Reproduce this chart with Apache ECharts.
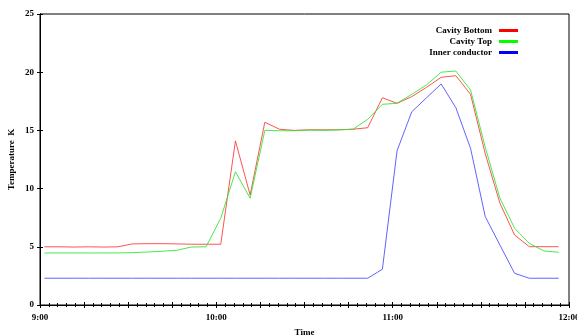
<!DOCTYPE html>
<html>
<head>
<meta charset="utf-8">
<script src="https://cdn.jsdelivr.net/npm/echarts@6/dist/echarts.min.js"></script>
<style>
html,body{margin:0;padding:0;background:#fff;}
#chart{width:577px;height:336px;}
</style>
</head>
<body>
<div id="chart"></div>
<script>
const times = ['9:01:30','9:06:30','9:11:30','9:16:30','9:21:30','9:26:30','9:31:30','9:36:30','9:41:30','9:46:30',
  '9:51:30','9:56:30','10:01:30','10:06:30','10:11:30','10:16:30','10:21:30','10:26:30','10:31:30','10:36:30',
  '10:41:30','10:46:30','10:51:30','10:56:30','11:01:30','11:06:30','11:11:30','11:16:30','11:21:30','11:26:30',
  '11:31:30','11:36:30','11:41:30','11:46:30','11:51:30','11:56:30'];
const cavityBottom = [5.0,5.0,4.98,5.0,4.98,5.0,5.25,5.27,5.27,5.25,5.22,5.22,5.22,
  14.1,9.45,15.7,15.1,15.0,15.05,15.05,15.05,15.1,15.23,
  17.8,17.33,17.9,18.7,19.56,19.7,18.1,13.0,8.74,6.01,5.01,5.01,5.01];
const cavityTop = [4.47,4.47,4.47,4.47,4.47,4.47,4.5,4.55,4.62,4.7,4.98,5.0,
  7.45,11.45,9.17,15.0,14.97,14.97,15.03,15.0,15.05,15.1,15.95,
  17.24,17.33,18.1,18.9,20.0,20.1,18.47,13.55,9.17,6.59,5.3,4.64,4.53];
const innerConductor = [2.3,2.3,2.3,2.3,2.3,2.3,2.3,2.3,2.3,2.3,2.3,2.3,2.3,2.3,2.3,2.3,2.3,2.3,2.3,2.3,2.3,2.3,2.3,
  3.07,13.26,16.6,17.8,18.99,16.95,13.46,7.59,5.15,2.72,2.3,2.3,2.3];
const tickLabels = ['9:00','10:00','11:00','12:00'];
const seriesNames = ['Cavity Bottom','Cavity Top','Inner conductor'];

function toMin(s){const p=s.split(':').map(Number);return (p[0]-9)*60+p[1]+(p[2]||0)/60;}
function pairs(vals){return vals.map((v,i)=>[toMin(times[i]),v]);}

const font = {fontFamily:'Liberation Serif',fontWeight:'bold',fontSize:9,color:'#000'};
const axisLine = {show:true,lineStyle:{color:'#000',width:1}};

const chart = echarts.init(document.getElementById('chart'),null,{renderer:'canvas'});
chart.setOption({
  animation:false,
  backgroundColor:'#fff',
  grid:{left:40,right:8,top:14,bottom:31,show:true,borderColor:'#000',borderWidth:1,
    containLabel:false,outerBoundsMode:'none'},
  legend:{
    data:seriesNames.map(n=>({name:n,icon:'rect'})),
    orient:'vertical',right:59,top:25,align:'right',padding:0,
    itemWidth:19,itemHeight:3,itemGap:0,
    textStyle:Object.assign({},font,{lineHeight:11,padding:[0,2,0,0]})
  },
  xAxis:[{
    type:'value',min:0,max:180,interval:15,
    name:'Time',nameLocation:'middle',nameGap:23,nameTextStyle:font,
    axisLine:axisLine,
    axisTick:{show:true,inside:true,length:3,lineStyle:{color:'#000'}},
    minorTick:{show:true,splitNumber:5,length:2,lineStyle:{color:'#000'}},
    splitLine:{show:false},
    axisLabel:Object.assign({},font,{margin:8,showMaxLabel:true,
      formatter:v=>(v%60===0?tickLabels[v/60]:'')})
  },{
    type:'value',min:0,max:180,interval:15,position:'top',
    axisLine:axisLine,
    axisTick:{show:true,inside:true,length:3,lineStyle:{color:'#000'}},
    minorTick:{show:true,splitNumber:5,length:2,lineStyle:{color:'#000'}},
    splitLine:{show:false},axisLabel:{show:false}
  }],
  yAxis:[{
    type:'value',min:0,max:25,interval:5,
    name:'Temperature  K',nameLocation:'middle',nameGap:24,nameRotate:90,nameTextStyle:font,
    nameMoveOverlap:false,
    axisLine:axisLine,
    axisTick:{show:true,inside:true,length:3,lineStyle:{color:'#000'}},
    splitLine:{show:false},
    axisLabel:Object.assign({},font,{margin:6})
  },{
    type:'value',min:0,max:25,interval:5,position:'right',
    axisLine:axisLine,
    axisTick:{show:true,inside:true,length:3,lineStyle:{color:'#000'}},
    splitLine:{show:false},axisLabel:{show:false}
  }],
  series:[
    {name:seriesNames[0],type:'line',data:pairs(cavityBottom),showSymbol:false,symbol:'none',
      itemStyle:{color:'#ff0000'},lineStyle:{color:'rgba(255,40,40,0.8)',width:1}},
    {name:seriesNames[1],type:'line',data:pairs(cavityTop),showSymbol:false,symbol:'none',
      itemStyle:{color:'#00ff00'},lineStyle:{color:'rgba(40,230,40,0.85)',width:1}},
    {name:seriesNames[2],type:'line',data:pairs(innerConductor),showSymbol:false,symbol:'none',
      itemStyle:{color:'#0000ff'},lineStyle:{color:'rgba(60,60,255,0.8)',width:1}}
  ]
});
</script>
</body>
</html>
